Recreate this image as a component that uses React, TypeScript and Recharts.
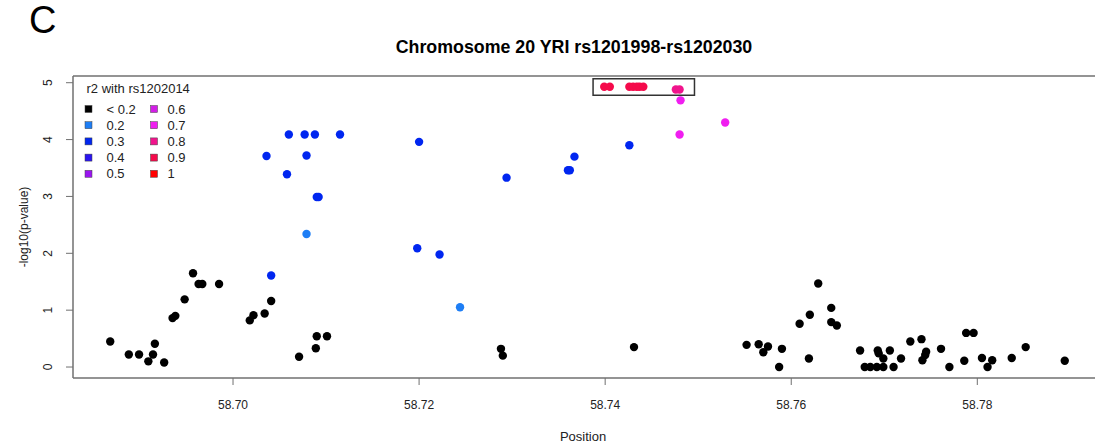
import { ScatterChart, Scatter, XAxis, YAxis, ReferenceArea, ReferenceLine } from 'recharts';

type Pt = { pos: number; logp: number };

// -log10(p) by position (Mb), split by r2 class with rs1202014
const r2Lt02: Pt[] = [
  { pos: 58.6868, logp: 0.45 }, { pos: 58.6888, logp: 0.22 }, { pos: 58.6899, logp: 0.22 },
  { pos: 58.6909, logp: 0.1 }, { pos: 58.6914, logp: 0.22 }, { pos: 58.6916, logp: 0.41 },
  { pos: 58.6926, logp: 0.08 }, { pos: 58.6935, logp: 0.86 }, { pos: 58.6938, logp: 0.9 },
  { pos: 58.6948, logp: 1.19 }, { pos: 58.6957, logp: 1.65 }, { pos: 58.6963, logp: 1.46 },
  { pos: 58.6967, logp: 1.46 }, { pos: 58.6985, logp: 1.46 }, { pos: 58.7018, logp: 0.82 },
  { pos: 58.7022, logp: 0.91 }, { pos: 58.7034, logp: 0.94 }, { pos: 58.7041, logp: 1.16 },
  { pos: 58.7071, logp: 0.18 }, { pos: 58.7089, logp: 0.33 }, { pos: 58.709, logp: 0.54 },
  { pos: 58.7101, logp: 0.54 }, { pos: 58.7288, logp: 0.32 }, { pos: 58.729, logp: 0.2 },
  { pos: 58.7431, logp: 0.35 }, { pos: 58.7552, logp: 0.39 }, { pos: 58.7565, logp: 0.4 },
  { pos: 58.757, logp: 0.26 }, { pos: 58.7575, logp: 0.36 }, { pos: 58.759, logp: 0.32 },
  { pos: 58.7587, logp: 0.0 }, { pos: 58.7609, logp: 0.76 }, { pos: 58.7619, logp: 0.15 },
  { pos: 58.762, logp: 0.92 }, { pos: 58.7629, logp: 1.47 }, { pos: 58.7643, logp: 1.04 },
  { pos: 58.7643, logp: 0.79 }, { pos: 58.7649, logp: 0.73 }, { pos: 58.7674, logp: 0.29 },
  { pos: 58.7679, logp: 0.0 }, { pos: 58.7685, logp: 0.0 }, { pos: 58.7692, logp: 0.0 },
  { pos: 58.7699, logp: 0.0 }, { pos: 58.7693, logp: 0.29 }, { pos: 58.7694, logp: 0.24 },
  { pos: 58.7699, logp: 0.15 }, { pos: 58.7706, logp: 0.29 }, { pos: 58.771, logp: 0.0 },
  { pos: 58.7718, logp: 0.15 }, { pos: 58.7728, logp: 0.45 }, { pos: 58.774, logp: 0.49 },
  { pos: 58.7745, logp: 0.27 }, { pos: 58.7744, logp: 0.21 }, { pos: 58.7741, logp: 0.12 },
  { pos: 58.7761, logp: 0.32 }, { pos: 58.777, logp: 0.0 }, { pos: 58.7786, logp: 0.11 },
  { pos: 58.7788, logp: 0.6 }, { pos: 58.7796, logp: 0.6 }, { pos: 58.7805, logp: 0.16 },
  { pos: 58.7811, logp: 0.0 }, { pos: 58.7816, logp: 0.12 }, { pos: 58.7837, logp: 0.16 },
  { pos: 58.7852, logp: 0.35 }, { pos: 58.7894, logp: 0.11 },
];

const r2Of02: Pt[] = [
  { pos: 58.7079, logp: 2.34 }, { pos: 58.7244, logp: 1.05 },
];

const r2Of03: Pt[] = [
  { pos: 58.7041, logp: 1.61 }, { pos: 58.709, logp: 2.99 }, { pos: 58.7092, logp: 2.99 },
  { pos: 58.7058, logp: 3.39 }, { pos: 58.7036, logp: 3.71 }, { pos: 58.7079, logp: 3.72 },
  { pos: 58.706, logp: 4.09 }, { pos: 58.7077, logp: 4.09 }, { pos: 58.7088, logp: 4.09 },
  { pos: 58.7115, logp: 4.09 }, { pos: 58.72, logp: 3.96 }, { pos: 58.7198, logp: 2.09 },
  { pos: 58.7222, logp: 1.98 }, { pos: 58.7294, logp: 3.33 }, { pos: 58.736, logp: 3.46 },
  { pos: 58.7362, logp: 3.46 }, { pos: 58.7367, logp: 3.7 }, { pos: 58.7426, logp: 3.9 },
];

const r2Of07: Pt[] = [
  { pos: 58.748, logp: 4.09 }, { pos: 58.7481, logp: 4.69 }, { pos: 58.7529, logp: 4.3 },
];

const r2Of08: Pt[] = [
  { pos: 58.7476, logp: 4.88 }, { pos: 58.748, logp: 4.88 },
];

const r2Of09: Pt[] = [
  { pos: 58.7399, logp: 4.93 }, { pos: 58.7405, logp: 4.93 }, { pos: 58.7426, logp: 4.93 },
  { pos: 58.743, logp: 4.93 }, { pos: 58.7434, logp: 4.93 }, { pos: 58.7437, logp: 4.93 },
  { pos: 58.7441, logp: 4.93 },
];

const legendLabels = ['< 0.2', '0.2', '0.3', '0.4', '0.5', '0.6', '0.7', '0.8', '0.9', '1'];
const legendColors = [
  '#000000', '#1E7EF5', '#0026F0', '#2A14F0', '#9A14F0',
  '#D21EE6', '#F01EF0', '#F0148C', '#F50A4B', '#FF0000',
];

const xTicks = [58.7, 58.72, 58.74, 58.76, 58.78];
const yTicks = [0, 1, 2, 3, 4, 5];

const X_DOMAIN: [number, number] = [58.6828, 58.7948];
const Y_DOMAIN: [number, number] = [-0.193, 5.118];
const boxX = [58.7387, 58.7496];
const boxY = [4.78, 5.07];

const AXIS = '#707070';
const FONT = '"Liberation Sans", Arial, Helvetica, sans-serif';

const dot = (color: string) => (p: any) => <circle cx={p.cx} cy={p.cy} r={4.2} fill={color} />;

const XTick = (p: any) => (
  <text x={p.x} y={409} textAnchor="middle" fontSize={12} fill="#222" fontFamily={FONT}>
    {Number(p.payload.value).toFixed(2)}
  </text>
);

const YTick = (p: any) => (
  <text
    x={52.5}
    y={p.y}
    transform={`rotate(-90, 52.5, ${p.y})`}
    textAnchor="middle"
    fontSize={12}
    fill="#222"
    fontFamily={FONT}
  >
    {p.payload.value}
  </text>
);

const series = [
  { data: r2Lt02, color: legendColors[0] },
  { data: r2Of02, color: legendColors[1] },
  { data: r2Of03, color: legendColors[2] },
  { data: r2Of07, color: legendColors[6] },
  { data: r2Of08, color: legendColors[7] },
  { data: r2Of09, color: legendColors[8] },
];

export default function App() {
  return (
    <div
      style={{
        position: 'absolute',
        left: 0,
        top: 0,
        width: 1095,
        height: 446,
        overflow: 'hidden',
        background: '#fff',
        fontFamily: FONT,
      }}
    >
      <ScatterChart width={1115} height={446} margin={{ top: 76, right: 0, bottom: 0, left: 0 }}>
        <XAxis
          type="number"
          dataKey="pos"
          domain={X_DOMAIN}
          ticks={xTicks}
          allowDataOverflow
          height={68}
          tickSize={7}
          tick={XTick}
          tickLine={{ stroke: AXIS }}
          axisLine={{ stroke: AXIS, strokeWidth: 1.5 }}
        />
        <YAxis
          type="number"
          dataKey="logp"
          domain={Y_DOMAIN}
          ticks={yTicks}
          allowDataOverflow
          width={73}
          tickSize={7}
          tick={YTick}
          tickLine={{ stroke: AXIS }}
          axisLine={{ stroke: AXIS, strokeWidth: 1.5 }}
        />
        <ReferenceLine y={Y_DOMAIN[1]} stroke={AXIS} strokeWidth={1.5} ifOverflow="visible" />
        {series.map((s, i) => (
          <Scatter key={i} data={s.data} fill={s.color} shape={dot(s.color)} isAnimationActive={false} />
        ))}
        <ReferenceArea
          x1={boxX[0]}
          x2={boxX[1]}
          y1={boxY[0]}
          y2={boxY[1]}
          fill="none"
          fillOpacity={0}
          stroke="#333"
          strokeWidth={1.5}
        />
      </ScatterChart>
      <svg
        width={1095}
        height={446}
        style={{ position: 'absolute', left: 0, top: 0, pointerEvents: 'none' }}
        fontFamily={FONT}
      >
        <text x={29} y={33} fontSize={38} fill="#000">C</text>
        <text x={574} y={53} textAnchor="middle" fontSize={17.8} fontWeight="bold" fill="#000">
          Chromosome 20 YRI rs1201998-rs1202030
        </text>
        <text x={583} y={440.5} textAnchor="middle" fontSize={13} fill="#222">Position</text>
        <text
          x={28}
          y={227}
          transform="rotate(-90, 28, 227)"
          textAnchor="middle"
          fontSize={12}
          fill="#222"
        >
          -log10(p-value)
        </text>
        <text x={86.5} y={93} fontSize={13} fill="#222">r2 with rs1202014</text>
        {legendLabels.map((lab, i) => {
          const col = Math.floor(i / 5);
          const row = i % 5;
          const cy = 109 + row * 16.2;
          const sx = col === 0 ? 85 : 150.5;
          const tx = col === 0 ? 106.5 : 167.5;
          return (
            <g key={lab}>
              <rect x={sx} y={cy - 3.5} width={7} height={7} fill={legendColors[i]} stroke="#444" strokeWidth={0.5} />
              <text x={tx} y={cy + 4.6} fontSize={13} fill="#222">{lab}</text>
            </g>
          );
        })}
      </svg>
    </div>
  );
}
